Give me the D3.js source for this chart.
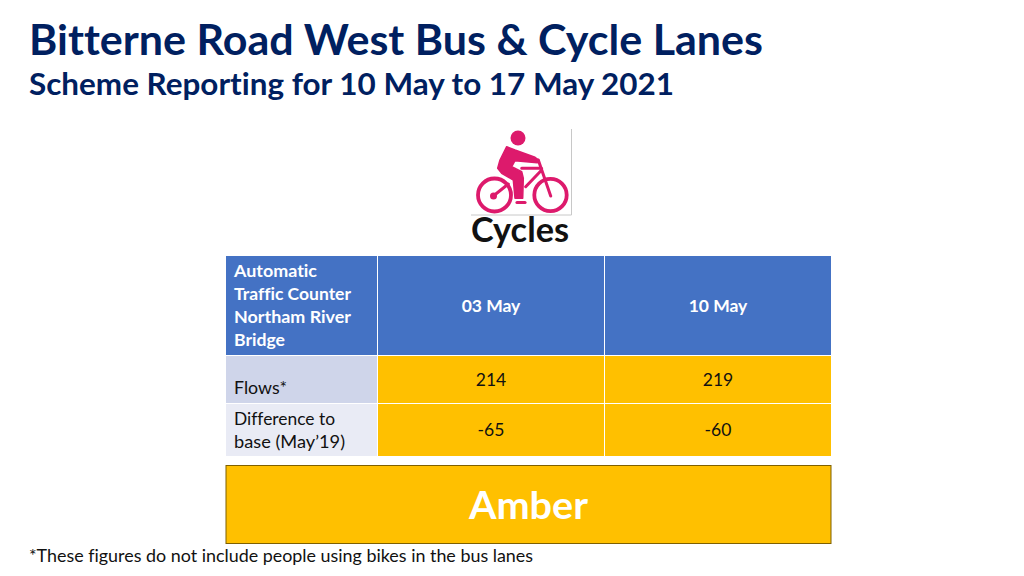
<!DOCTYPE html>
<html>
<head>
<meta charset="utf-8">
<script src="https://cdn.jsdelivr.net/npm/d3@7"></script>
<style>
  html, body { margin: 0; padding: 0; background: #fff; }
  text { font-family: Lato, "Noto Sans", sans-serif; font-variant-ligatures: none; }
</style>
</head>
<body>
<div id="chart"></div>
<script>
// data
const titleText = "Bitterne Road West Bus & Cycle Lanes";
const subtitleText = "Scheme Reporting for 10 May to 17 May 2021";
const iconLabel = "Cycles";
const headerLines = ["Automatic", "Traffic Counter", "Northam River", "Bridge"];
const weeks = ["03 May", "10 May"];
const rowNames = ["Flows", "Difference"];
const flows = [214, 219];
const differences = [-65, -60];
const flowLabel = ["Flows*"];
const diffLabel = ["Difference to", "base (May\u201919)"];
const statusText = "Amber";
const footnote = "*These figures do not include people using bikes in the bus lanes";

const width = 1024, height = 576;
const navy = "#002060", blue = "#4472c4", amber = "#ffc000", pink = "#dd1a6c";

// measured line widths, text is stretched a little to match them
const lineWidths = {
  [titleText]: 734, [subtitleText]: 645, [iconLabel]: 98, [statusText]: 119, [footnote]: 504,
  "Automatic": 83, "Traffic Counter": 117, "Northam River": 117, "Bridge": 51,
  "Flows*": 53, "Difference to": 101, "base (May\u201919)": 111
};

function fit(sel) {
  sel.each(function () {
    const w = lineWidths[this.textContent];
    if (w) d3.select(this).attr("textLength", w).attr("lengthAdjust", "spacingAndGlyphs");
  });
  return sel;
}

const svg = d3.select("#chart").append("svg")
  .attr("width", width).attr("height", height)
  .style("display", "block");

svg.append("text").attr("x", 29).attr("y", 55)
  .attr("font-size", 42).attr("font-weight", 700).attr("fill", navy)
  .text(titleText).call(fit);
svg.append("text").attr("x", 29).attr("y", 95)
  .attr("font-size", 30).attr("font-weight", 700).attr("fill", navy)
  .text(subtitleText).call(fit);

// table
const colX = d3.scaleOrdinal().domain(["label", ...weeks]).range([226, 378, 605]);
const colW = d3.scaleOrdinal().domain(["label", ...weeks]).range([151, 226, 226]);
const rowY = d3.scaleOrdinal().domain(["header", ...rowNames]).range([256, 356, 404]);
const rowH = d3.scaleOrdinal().domain(["header", ...rowNames]).range([99, 47, 52]);

const table = svg.append("g");

function cell(col, row, fill) {
  table.append("rect")
    .attr("x", colX(col)).attr("y", rowY(row))
    .attr("width", colW(col)).attr("height", rowH(row))
    .attr("fill", fill);
}

cell("label", "header", blue);
cell("label", "Flows", "#cfd5ea");
cell("label", "Difference", "#e9ebf5");
weeks.forEach((w, i) => {
  cell(w, "header", blue);
  cell(w, "Flows", amber);
  cell(w, "Difference", amber);

  const cx = colX(w) + colW(w) / 2;
  table.append("text").attr("x", cx).attr("y", 312)
    .attr("text-anchor", "middle").attr("font-size", 17.5).attr("font-weight", 700)
    .attr("fill", "#fff").text(w);
  table.append("text").attr("x", cx).attr("y", 386)
    .attr("text-anchor", "middle").attr("font-size", 17.5).attr("fill", "#111")
    .text(flows[i]);
  table.append("text").attr("x", cx).attr("y", 436)
    .attr("text-anchor", "middle").attr("font-size", 17.5).attr("fill", "#111")
    .text(differences[i]);
});

function leftLines(lines, y0, weight, fill) {
  table.selectAll(null).data(lines).join("text")
    .attr("x", 234).attr("y", (d, i) => y0 + i * 23)
    .attr("font-size", 17.5).attr("font-weight", weight).attr("fill", fill)
    .text(d => d).call(fit);
}
leftLines(headerLines, 277, 700, "#fff");
leftLines(flowLabel, 394, 400, "#111");
leftLines(diffLabel, 425, 400, "#111");

// status box
svg.append("rect").attr("x", 226).attr("y", 465.5).attr("width", 605).attr("height", 78)
  .attr("fill", amber).attr("stroke", "#7f6000").attr("stroke-width", 1);
svg.append("text").attr("x", 528.5).attr("y", 519)
  .attr("text-anchor", "middle").attr("font-size", 38).attr("font-weight", 700)
  .attr("fill", "#fff").text(statusText).call(fit);

svg.append("text").attr("x", 29).attr("y", 562)
  .attr("font-size", 17.5).attr("fill", "#111").text(footnote).call(fit);

// cyclist icon
svg.append("path").attr("d", "M571.5 129V215H471").attr("fill", "none").attr("stroke", "#c8c8c8").attr("stroke-width", 1);
const icon = svg.append("g").attr("fill", "none").attr("stroke", pink)
  .attr("stroke-linecap", "round").attr("stroke-linejoin", "round");
icon.append("circle").attr("cx", 518).attr("cy", 138).attr("r", 7.5).attr("fill", pink).attr("stroke", "none");
icon.append("circle").attr("cx", 494.5).attr("cy", 195).attr("r", 16.5).attr("stroke-width", 3.8);
icon.append("circle").attr("cx", 550.5).attr("cy", 195).attr("r", 16.2).attr("stroke-width", 3.8);
icon.append("path").attr("fill", pink).attr("stroke", pink).attr("stroke-width", 1.5)
  .attr("d", "M506.7 146.7L515 150L535 157.3L539.3 160.7L537.3 162.7L515 160.7L511.7 166.7L521.7 171.7L523.3 178.3L522.7 198.3L515 198.3L513.3 180L501.7 173.3L497.7 168.3L500 160Z");
icon.append("path").attr("stroke-width", 3)
  .attr("d", "M521.7 168.3H541.7M538.3 160L550.7 196M541 170.7L525.7 186.7M493.3 196L508.3 184");
icon.append("path").attr("stroke-width", 3.2).attr("d", "M517 202.5H525");
icon.append("circle").attr("cx", 493.5).attr("cy", 196).attr("r", 3.5).attr("fill", pink).attr("stroke", "none");

svg.append("text").attr("x", 520).attr("y", 242)
  .attr("text-anchor", "middle").attr("font-size", 33.5).attr("font-weight", 700)
  .attr("fill", "#111").text(iconLabel).call(fit);
</script>
</body>
</html>
